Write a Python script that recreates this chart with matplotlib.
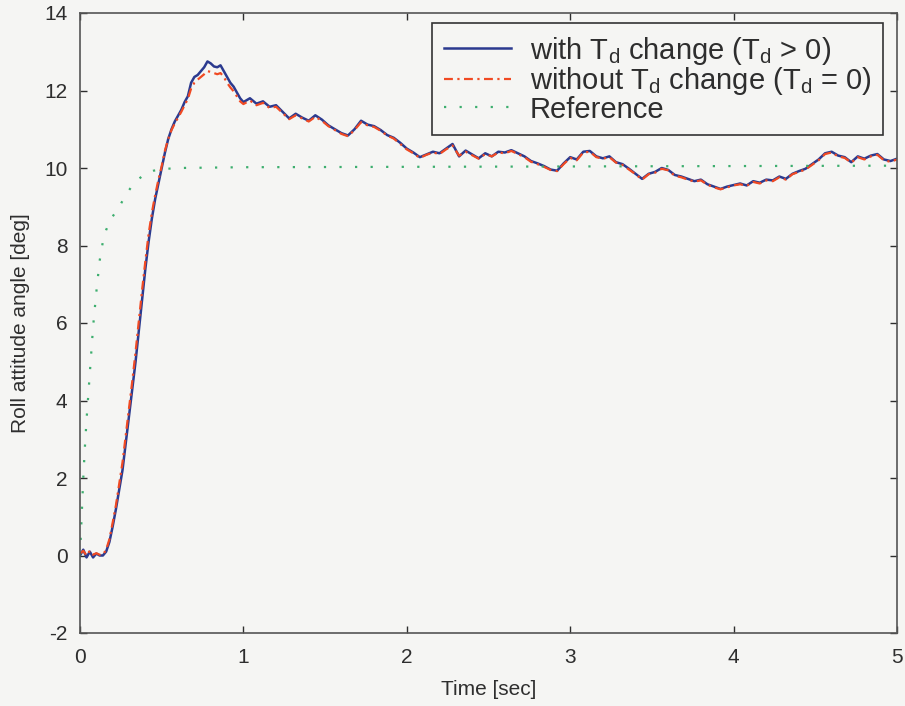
#!/usr/bin/env python3
"""Roll attitude step response: with / without T_d change vs. reference."""

import matplotlib

matplotlib.use("Agg")
import matplotlib.pyplot as plt

plt.rcParams["font.family"] = ["Liberation Sans", "DejaVu Sans"]
plt.rcParams["mathtext.fontset"] = "custom"
plt.rcParams["mathtext.rm"] = "Liberation Sans"
plt.rcParams["mathtext.it"] = "Liberation Sans:italic"
plt.rcParams["axes.unicode_minus"] = False

# ---- data ---------------------------------------------------------------
time_rise = [
    0.00, 0.02, 0.04, 0.06, 0.08, 0.10, 0.12, 0.14, 0.16, 0.18,
    0.20, 0.22, 0.24, 0.26, 0.28, 0.30, 0.32, 0.34, 0.36, 0.38,
    0.40, 0.42, 0.44, 0.46, 0.48, 0.50, 0.52, 0.54, 0.56, 0.58,
    0.60, 0.62, 0.64, 0.66, 0.68, 0.70, 0.72, 0.74, 0.76, 0.78,
    0.80, 0.82, 0.84, 0.86, 0.88, 0.90, 0.92, 0.94, 0.96, 0.98,
]
time_tail = [
    1.00, 1.04, 1.08, 1.12, 1.16, 1.20, 1.24, 1.28, 1.32, 1.36,
    1.40, 1.44, 1.48, 1.52, 1.56, 1.60, 1.64, 1.68, 1.72, 1.76,
    1.80, 1.84, 1.88, 1.92, 1.96, 2.00, 2.04, 2.08, 2.12, 2.16,
    2.20, 2.24, 2.28, 2.32, 2.36, 2.40, 2.44, 2.48, 2.52, 2.56,
    2.60, 2.64, 2.68, 2.72, 2.76, 2.80, 2.84, 2.88, 2.92, 2.96,
    3.00, 3.04, 3.08, 3.12, 3.16, 3.20, 3.24, 3.28, 3.32, 3.36,
    3.40, 3.44, 3.48, 3.52, 3.56, 3.60, 3.64, 3.68, 3.72, 3.76,
    3.80, 3.84, 3.88, 3.92, 3.96, 4.00, 4.04, 4.08, 4.12, 4.16,
    4.20, 4.24, 4.28, 4.32, 4.36, 4.40, 4.44, 4.48, 4.52, 4.56,
    4.60, 4.64, 4.68, 4.72, 4.76, 4.80, 4.84, 4.88, 4.92, 4.96,
    5.00,
]

with_td_rise = [
    0.00, 0.15, -0.05, 0.10, -0.05, 0.05, 0.00, 0.00, 0.10, 0.35,
    0.75, 1.20, 1.70, 2.20, 2.90, 3.60, 4.30, 5.00, 5.80, 6.60,
    7.40, 8.10, 8.70, 9.20, 9.60, 10.00, 10.40, 10.75, 11.00, 11.20,
    11.35, 11.50, 11.70, 11.85, 12.20, 12.35, 12.40, 12.50, 12.60, 12.75,
    12.70, 12.62, 12.60, 12.65, 12.50, 12.35, 12.20, 12.10, 11.95, 11.80,
]
with_td_tail = [
    11.70, 11.80, 11.66, 11.72, 11.58, 11.62, 11.45, 11.28, 11.40, 11.30,
    11.22, 11.36, 11.25, 11.10, 11.00, 10.90, 10.84, 11.00, 11.22, 11.12,
    11.08, 10.98, 10.85, 10.78, 10.65, 10.50, 10.40, 10.28, 10.35, 10.42,
    10.38, 10.50, 10.62, 10.30, 10.45, 10.35, 10.25, 10.38, 10.30, 10.42,
    10.40, 10.46, 10.38, 10.30, 10.18, 10.12, 10.05, 9.96, 9.93, 10.12,
    10.28, 10.22, 10.42, 10.44, 10.30, 10.25, 10.30, 10.15, 10.10, 9.98,
    9.85, 9.72, 9.85, 9.90, 10.00, 9.95, 9.82, 9.78, 9.72, 9.66,
    9.70, 9.58, 9.52, 9.46, 9.52, 9.56, 9.60, 9.55, 9.66, 9.62,
    9.70, 9.68, 9.78, 9.72, 9.85, 9.92, 9.98, 10.10, 10.22, 10.38,
    10.42, 10.32, 10.28, 10.15, 10.30, 10.24, 10.32, 10.36, 10.22, 10.18,
    10.24,
]

without_td_rise = [
    0.05, 0.12, 0.00, 0.12, 0.02, 0.06, 0.02, 0.02, 0.15, 0.42,
    0.85, 1.30, 1.85, 2.40, 3.10, 3.80, 4.50, 5.25, 6.05, 6.85,
    7.60, 8.30, 8.85, 9.30, 9.70, 10.05, 10.45, 10.75, 10.98, 11.15,
    11.30, 11.45, 11.62, 11.78, 12.05, 12.20, 12.28, 12.35, 12.42, 12.50,
    12.48, 12.45, 12.42, 12.45, 12.35, 12.20, 12.08, 11.98, 11.85, 11.72,
]
without_td_tail = [
    11.65, 11.74, 11.62, 11.68, 11.55, 11.58, 11.42, 11.26, 11.36, 11.28,
    11.20, 11.32, 11.22, 11.08, 10.98, 10.88, 10.82, 10.98, 11.18, 11.10,
    11.06, 10.96, 10.84, 10.76, 10.62, 10.48, 10.38, 10.26, 10.34, 10.40,
    10.36, 10.48, 10.58, 10.32, 10.42, 10.33, 10.24, 10.36, 10.30, 10.40,
    10.38, 10.44, 10.36, 10.28, 10.16, 10.10, 10.03, 9.95, 9.92, 10.10,
    10.26, 10.20, 10.40, 10.42, 10.28, 10.24, 10.28, 10.14, 10.08, 9.96,
    9.84, 9.70, 9.84, 9.88, 9.98, 9.94, 9.80, 9.76, 9.70, 9.65,
    9.68, 9.57, 9.50, 9.45, 9.50, 9.55, 9.58, 9.54, 9.64, 9.60,
    9.68, 9.66, 9.76, 9.70, 9.84, 9.90, 9.96, 10.08, 10.20, 10.36,
    10.40, 10.30, 10.26, 10.14, 10.28, 10.22, 10.30, 10.34, 10.20, 10.16,
    10.22,
]

time_ref = [
    0.00, 0.01, 0.02, 0.03, 0.04, 0.05, 0.06, 0.08, 0.10, 0.12,
    0.14, 0.16, 0.18, 0.20, 0.24, 0.28, 0.32, 0.36, 0.40, 0.45,
    0.50, 0.60, 1.00, 2.00, 3.00, 4.00, 5.00,
]
reference = [
    0.00, 1.00, 2.00, 2.80, 3.50, 4.10, 4.70, 5.90, 6.80, 7.60,
    8.10, 8.40, 8.60, 8.75, 9.00, 9.30, 9.55, 9.72, 9.85, 9.93,
    9.97, 10.00, 10.02, 10.03, 10.04, 10.05, 10.06,
]

labels = [
    r"with T$_\mathrm{d}$ change (T$_\mathrm{d}$ > 0)",
    r"without T$_\mathrm{d}$ change (T$_\mathrm{d}$ = 0)",
    "Reference",
]

# ---- figure ---------------------------------------------------------------
BG = "#f5f5f3"
INK = "#2e2e2e"
fig = plt.figure(figsize=(9.05, 7.06), dpi=100, facecolor=BG)
ax = fig.add_axes([80 / 905, 73 / 706, 817 / 905, 620 / 706], facecolor=BG)

ax.plot(time_rise + time_tail, with_td_rise + with_td_tail,
        color="#2b3a8f", lw=1.8, label=labels[0])
ax.plot(time_rise + time_tail, without_td_rise + without_td_tail,
        color="#f04a23", lw=1.6, ls=(0, (4, 2, 1, 2)), label=labels[1])
ax.plot(time_ref, reference,
        color="#3dae6e", lw=1.6, ls=(0, (1, 6)), label=labels[2])

ax.set_xlim(0, 5)
ax.set_ylim(-2, 14)
ax.set_xticks(range(0, 6))
ax.set_yticks(range(-2, 15, 2))
ax.tick_params(direction="in", length=5, width=1, top=True, right=True,
               labelsize=15, colors=INK)
ax.tick_params(axis="x", pad=11)
ax.tick_params(axis="y", pad=9)
for spine in ax.spines.values():
    spine.set_color("#555555")
    spine.set_linewidth(1.2)

ax.set_xlabel("Time [sec]", fontsize=15, color=INK, labelpad=9)
ax.set_ylabel("Roll attitude angle [deg]", fontsize=15, color=INK,
              labelpad=10)

leg = ax.legend(loc="upper right", bbox_to_anchor=(0.983, 0.984),
                borderaxespad=0, fontsize=21, frameon=True, fancybox=False,
                framealpha=1, facecolor=BG, edgecolor="#333333",
                handlelength=2.3, handletextpad=0.65, labelspacing=-0.05,
                borderpad=0.4)
leg.get_frame().set_linewidth(1.2)
for text in leg.get_texts():
    text.set_color(INK)

fig.savefig("out.png", dpi=100, facecolor=BG)
